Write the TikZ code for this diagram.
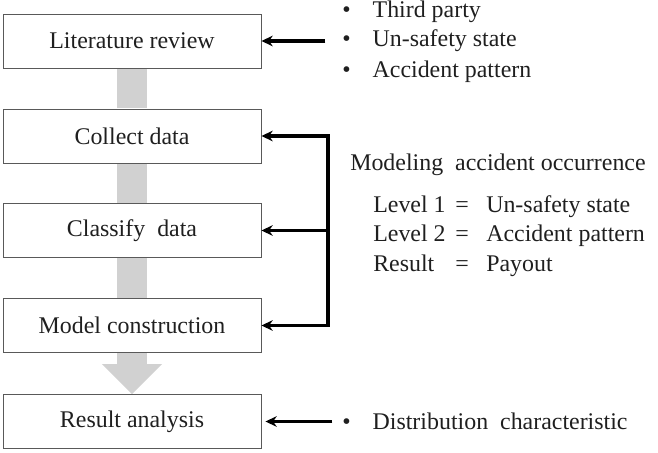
\documentclass[tikz,border=0pt]{standalone}
\usepackage{fontspec}
\setmainfont{Liberation Serif}
\usetikzlibrary{arrows.meta}

\tikzset{
  stage/.style={draw=black!65, line width=0.6pt, minimum width=6.45cm,
    minimum height=1.35cm, font=\fontsize{17}{20}\selectfont, text=black!88},
  note/.style={anchor=base west, inner sep=0pt,
    font=\fontsize{17}{20}\selectfont, text=black!88},
  flowbar/.style={line width=0.725cm, draw=black!18},
  feed/.style={line width=2.2pt, -{Stealth[length=8pt,width=7.5pt]}},
}

\begin{document}
\begin{tikzpicture}[x=0.025cm, y=-0.025cm]
    \useasboundingbox (0,0) rectangle (658,453);

    % work flow
    \foreach \nm/\txt/\yy in {lit/Literature review/41, col/Collect data/136,
        cla/Classify\ \ data/230.5, mod/Model construction/325.5,
        res/Result analysis/421.5}
      \node[stage] (\nm) at (132,\yy) {\txt};

    \foreach \a/\b in {lit/col, col/cla, cla/mod}
      \draw[flowbar, shorten <=0.3pt, shorten >=0.3pt] (\a.south) -- (\b.north);
    \draw[flowbar, shorten <=0.3pt,
      -{Triangle[length=0.75cm, width=1.5cm, line width=0pt]}] (mod.south) -- (res.north);

    % inputs
    \foreach \nm/\txt/\yy in {tp/Third party/17.5, us/Un-safety state/47,
        ap/Accident pattern/77}
      \node[note] (\nm) at (342,\yy) {\textbullet\hspace{0.55cm}\txt};
    \draw[feed] ([xshift=1.6cm]lit.east) -- (lit.east);

    \node[note] (moa) at (350,171) {Modeling\ \ accident occurrence};
    \foreach \nm/\lhs/\rhs/\yy in {lvA/Level 1/Un-safety state/212,
        lvB/Level 2/Accident pattern/241, lvC/Result/Payout/271} {
      \node[note] (\nm-l) at (373,\yy) {\lhs};
      \node[note, anchor=base] (\nm-e) at (462,\yy) {=};
      \node[note] (\nm-r) at (486,\yy) {\rhs};
    }

    \coordinate (bt) at (328,0);
    \draw[feed, {Stealth[length=8pt,width=7.5pt]}-{Stealth[length=8pt,width=7.5pt]}]
      (col.east) -- (col.east -| bt) |- (mod.east);
    \draw[feed] (cla.east -| bt) -- (cla.east);

    \node[note] (dc) at (342,429) {\textbullet\hspace{0.55cm}Distribution\ \ characteristic};
    \draw[feed, shorten >=0.1cm] ([xshift=1.775cm]res.east) -- (res.east);
\end{tikzpicture}
\end{document}
